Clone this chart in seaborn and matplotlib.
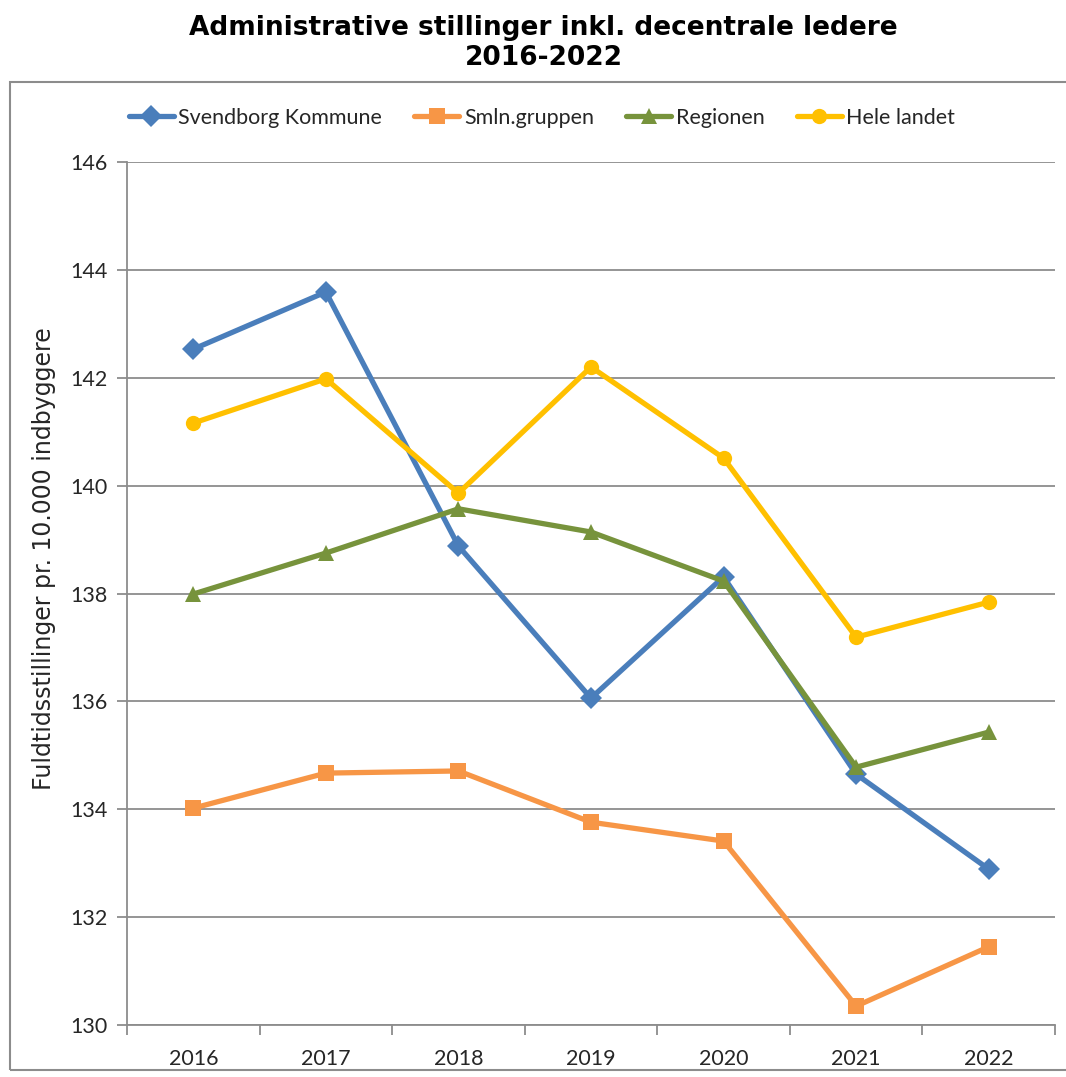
import pandas as pd
import seaborn as sns
import matplotlib.pyplot as plt
from matplotlib.patches import Rectangle
from matplotlib.ticker import FixedLocator

# Data
aar = ['2016', '2017', '2018', '2019', '2020', '2021', '2022']
svendborg = [142.53, 143.59, 138.88, 136.06, 138.31, 134.65, 132.89]
smln = [134.02, 134.67, 134.71, 133.76, 133.41, 130.35, 131.45]
regionen = [137.99, 138.75, 139.57, 139.14, 138.23, 134.78, 135.43]
hele_landet = [141.16, 141.98, 139.86, 142.20, 140.51, 137.19, 137.84]

serier = ['Svendborg Kommune', 'Smln.gruppen', 'Regionen', 'Hele landet']
farver = ['#4A7EBB', '#F79646', '#77933C', '#FFC000']
markoerer = ['D', 's', '^', 'o']

rows = []
for navn, vals in zip(serier, [svendborg, smln, regionen, hele_landet]):
    for i, v in enumerate(vals):
        rows.append({'pos': i, 'aar': aar[i], 'serie': navn, 'værdi': v})
df = pd.DataFrame(rows)

sns.set_theme(style='white')
plt.rcParams['font.family'] = ['Lato', 'DejaVu Sans']

fig = plt.figure(figsize=(10.66, 10.77), dpi=100)
ax = fig.add_axes([127 / 1066, 52 / 1077, 928 / 1066, 863 / 1077])

sns.lineplot(data=df, x='pos', y='værdi', hue='serie', style='serie',
             hue_order=serier, style_order=serier, palette=farver,
             markers=markoerer, dashes=False, linewidth=3.8, markersize=11,
             markeredgewidth=0, ax=ax)

ax.set_xlim(-0.5, 6.5)
ax.set_ylim(130, 146)
ax.set_yticks(range(130, 147, 2))
ax.yaxis.grid(True, color='#8c8c8c', linewidth=1.3)
ax.xaxis.grid(False)

ax.set_xticks(range(len(aar)))
ax.set_xticklabels(aar, fontsize=15.5)
ax.xaxis.set_minor_locator(FixedLocator([i - 0.5 for i in range(len(aar) + 1)]))
ax.tick_params(axis='x', which='major', length=0, pad=17)
ax.tick_params(axis='x', which='minor', length=7, width=1.3, color='#8c8c8c', bottom=True)
ax.tick_params(axis='y', length=7, width=1.3, color='#8c8c8c', left=True, labelsize=15.5, pad=7)

for side in ['top', 'right']:
    ax.spines[side].set_visible(False)
for side in ['left', 'bottom']:
    ax.spines[side].set_color('#8c8c8c')
    ax.spines[side].set_linewidth(1.3)

ax.set_xlabel('')
ax.set_ylabel('Fuldtidsstillinger pr. 10.000 indbyggere', fontsize=17,
              family=['DejaVu Sans'])
ax.yaxis.set_label_coords(-0.077, 0.54)

ax.legend(loc='center', bbox_to_anchor=(0.447, 1.051), ncol=4, frameon=False,
          fontsize=15.5, handlelength=2.1, columnspacing=1.5, handletextpad=0.2)

fig.text(0.51, 1 - 43 / 1077, 'Administrative stillinger inkl. decentrale ledere\n2016-2022',
         ha='center', va='center', fontsize=19, fontweight='bold', linespacing=1.2,
         family=['DejaVu Sans'], color='black')

fig.patches.append(Rectangle((10 / 1066, 7 / 1077), 1.0, 988 / 1077,
                             transform=fig.transFigure, fill=False,
                             edgecolor='#8c8c8c', linewidth=1.5))

fig.savefig('out.png', dpi=100)
